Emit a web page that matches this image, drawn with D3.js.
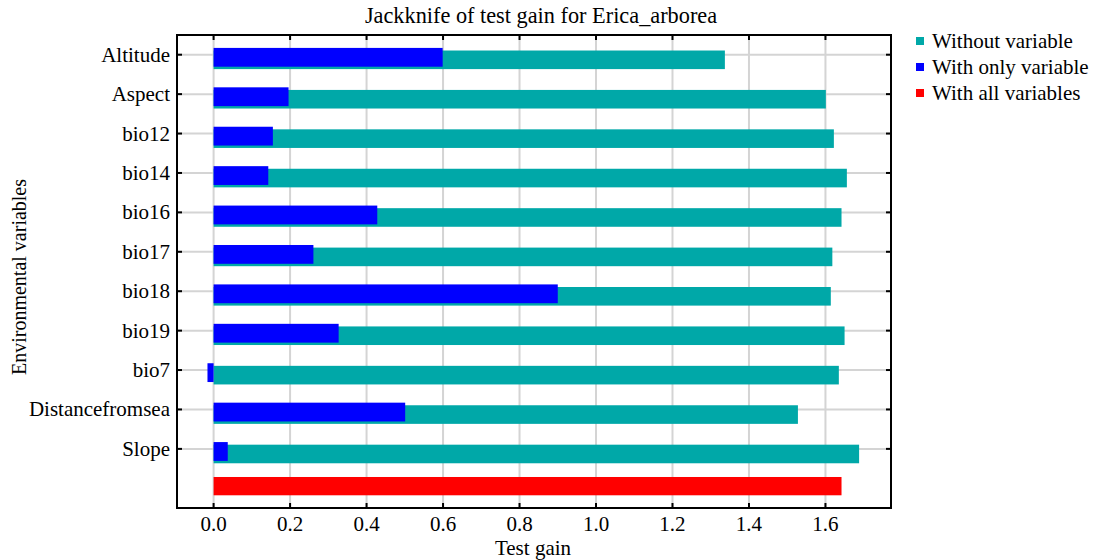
<!DOCTYPE html>
<html>
<head>
<meta charset="utf-8">
<script src="https://cdn.jsdelivr.net/npm/d3@7"></script>
<style>
  html, body { margin: 0; padding: 0; background: #fff; }
  svg { display: block; }
  text { font-family: "Liberation Serif", "Times New Roman", serif; fill: #000; }
</style>
</head>
<body>
<svg id="chart" width="1094" height="560" font-family="Liberation Serif, Times New Roman, serif"></svg>
<script>
// ---- data ----
const variables = ["Altitude", "Aspect", "bio12", "bio14", "bio16", "bio17", "bio18", "bio19", "bio7", "Distancefromsea", "Slope"];
const withoutVariable = [1.337, 1.601, 1.622, 1.656, 1.642, 1.618, 1.614, 1.650, 1.635, 1.528, 1.688];
const withOnlyVariable = [0.599, 0.196, 0.155, 0.143, 0.428, 0.261, 0.900, 0.327, -0.016, 0.501, 0.037];
const withAllVariables = 1.642;
const xTicks = [0.0, 0.2, 0.4, 0.6, 0.8, 1.0, 1.2, 1.4, 1.6];
const legendLabels = ["Without variable", "With only variable", "With all variables"];
const title = "Jackknife of test gain for Erica_arborea";
const xTitle = "Test gain";
const yTitle = "Environmental variables";

// ---- layout ----
const colors = ["#00a8a8", "#0000ff", "#ff0000"];
const box = {left: 177, right: 891, top: 35, bottom: 508};
const svg = d3.select("#chart");

const rows = variables.concat(["__all__"]);
const x = d3.scaleLinear().domain([-0.0957, 1.7714]).range([box.left, box.right]);
const y = d3.scalePoint().domain(rows).range([box.top, box.bottom]).padding(0.5);

// grid
const grid = svg.append("g").attr("stroke", "#d4d4d4").attr("stroke-width", 2);
grid.selectAll("line.v").data(xTicks).join("line")
  .attr("x1", d => x(d)).attr("x2", d => x(d))
  .attr("y1", box.top).attr("y2", box.bottom);
grid.selectAll("line.h").data(variables).join("line")
  .attr("x1", box.left).attr("x2", box.right)
  .attr("y1", d => y(d)).attr("y2", d => y(d));

// bars
const bars = svg.append("g");
bars.selectAll("rect.without").data(variables).join("rect")
  .attr("fill", colors[0])
  .attr("x", x(0))
  .attr("y", d => y(d) - 4.2)
  .attr("height", 18.6)
  .attr("width", (d, i) => x(withoutVariable[i]) - x(0));
bars.selectAll("rect.only").data(variables).join("rect")
  .attr("fill", colors[1])
  .attr("x", (d, i) => x(Math.min(0, withOnlyVariable[i])))
  .attr("y", d => y(d) - 6.8)
  .attr("height", 18.8)
  .attr("width", (d, i) => Math.abs(x(withOnlyVariable[i]) - x(0)));
bars.append("rect")
  .attr("fill", colors[2])
  .attr("x", x(0))
  .attr("y", y("__all__") - 11.3)
  .attr("height", 18.3)
  .attr("width", x(withAllVariables) - x(0));

// frame
svg.append("rect")
  .attr("x", box.left).attr("y", box.top)
  .attr("width", box.right - box.left).attr("height", box.bottom - box.top)
  .attr("fill", "none").attr("stroke", "#000").attr("stroke-width", 2);

// inward ticks
const tk = svg.append("g").attr("stroke", "#000").attr("stroke-width", 2);
xTicks.forEach(t => {
  tk.append("line").attr("x1", x(t)).attr("x2", x(t)).attr("y1", box.top).attr("y2", box.top + 5);
  tk.append("line").attr("x1", x(t)).attr("x2", x(t)).attr("y1", box.bottom).attr("y2", box.bottom - 5);
});
variables.forEach(v => {
  tk.append("line").attr("x1", box.left).attr("x2", box.left + 5).attr("y1", y(v)).attr("y2", y(v));
  tk.append("line").attr("x1", box.right).attr("x2", box.right - 5).attr("y1", y(v)).attr("y2", y(v));
});

// tick labels
svg.append("g").selectAll("text").data(xTicks).join("text")
  .attr("x", d => x(d)).attr("y", 531)
  .attr("text-anchor", "middle").attr("font-size", 21)
  .text(d => d3.format(".1f")(d));
svg.append("g").selectAll("text").data(variables).join("text")
  .attr("x", 170).attr("y", d => y(d) + 7)
  .attr("text-anchor", "end").attr("font-size", 21)
  .text(d => d);

// titles
svg.append("text").attr("x", 541).attr("y", 23).attr("text-anchor", "middle")
  .attr("font-size", 22.3).text(title);
svg.append("text").attr("x", 533).attr("y", 555).attr("text-anchor", "middle")
  .attr("font-size", 21).text(xTitle);
svg.append("text").attr("transform", "translate(26,277) rotate(-90)")
  .attr("text-anchor", "middle").attr("font-size", 20).text(yTitle);

// legend
const lg = svg.append("g").selectAll("g").data(legendLabels).join("g")
  .attr("transform", (d, i) => `translate(916,${41 + i * 26})`);
lg.append("rect").attr("x", 0).attr("y", -4).attr("width", 8).attr("height", 8)
  .attr("fill", (d, i) => colors[i]);
lg.append("text").attr("x", 16).attr("y", 7).attr("font-size", 21).text(d => d);
</script>
</body>
</html>
